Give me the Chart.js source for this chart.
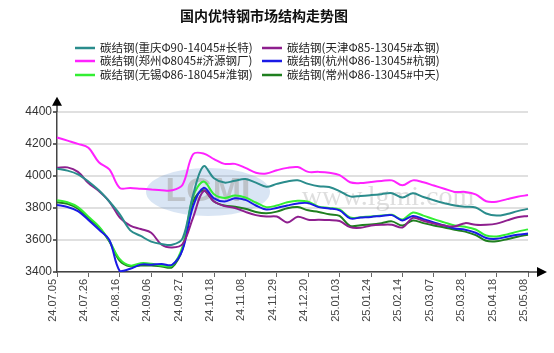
<!DOCTYPE html>
<html>
<head>
<meta charset="utf-8">
<script src="https://cdn.jsdelivr.net/npm/chart.js@4/dist/chart.umd.min.js"></script>
<style>
  html, body { margin: 0; padding: 0; background: #fff; }
  #wrap { width: 554px; height: 353px; }
</style>
</head>
<body>
<div id="wrap"><canvas id="myChart" width="554" height="353"></canvas></div>
<script>
// datos (aprox. semanal)
const fechas = [
  "24.07.05", "24.07.12", "24.07.19", "24.07.26", "24.08.02", "24.08.09",
  "24.08.16", "24.08.23", "24.08.30", "24.09.06", "24.09.13", "24.09.20",
  "24.09.27", "24.10.04", "24.10.11", "24.10.18", "24.10.25", "24.11.01",
  "24.11.08", "24.11.15", "24.11.22", "24.11.29", "24.12.06", "24.12.13",
  "24.12.20", "24.12.25", "24.12.30", "25.01.03", "25.01.10", "25.01.17",
  "25.01.24", "25.01.31", "25.02.07", "25.02.14", "25.02.21", "25.02.28",
  "25.03.07", "25.03.14", "25.03.21", "25.03.28", "25.04.04", "25.04.11",
  "25.04.18", "25.04.25", "25.04.30", "25.05.08"
];

const chongqing = [4045, 4033, 4010, 3965, 3910, 3840, 3760, 3660, 3625, 3590, 3575, 3570,
  3610, 3880, 4060, 3985, 3958, 3970, 3980, 3958, 3932, 3950, 3965, 3972,
  3950, 3935, 3930, 3905, 3872, 3875, 3880, 3886, 3892, 3865, 3892, 3868,
  3848, 3830, 3815, 3808, 3803, 3765, 3752, 3762, 3780, 3794];
const tianjin = [4050, 4053, 4025, 3955, 3905, 3840, 3740, 3690, 3668, 3645, 3570, 3553,
  3575, 3740, 3905, 3840, 3812, 3800, 3775, 3755, 3746, 3746, 3709, 3745,
  3726, 3726, 3724, 3718, 3680, 3676, 3690, 3695, 3695, 3678, 3738, 3720,
  3702, 3690, 3685, 3705, 3695, 3695, 3702, 3722, 3742, 3750];
const zhengzhou = [4240, 4220, 4200, 4175, 4085, 4040, 3925, 3925, 3920, 3915, 3910, 3910,
  3945, 4135, 4140, 4105, 4075, 4075, 4050, 4020, 4015, 4035, 4050, 4055,
  4025, 4025, 4020, 4005, 3960, 3955, 3962, 3968, 3972, 3941, 3972, 3960,
  3940, 3920, 3900, 3900, 3885, 3842, 3839, 3855, 3870, 3880];
const hangzhou = [3818, 3806, 3780, 3725, 3665, 3600, 3406, 3420, 3446, 3446, 3450, 3445,
  3540, 3810, 3925, 3860, 3840, 3860, 3850, 3815, 3790, 3800, 3815, 3828,
  3830, 3805, 3797, 3785, 3735, 3740, 3744, 3750, 3755, 3722, 3750, 3730,
  3710, 3690, 3672, 3664, 3645, 3612, 3607, 3620, 3632, 3640];
const wuxi = [3848, 3835, 3805, 3745, 3685, 3595, 3480, 3440, 3455, 3452, 3440, 3440,
  3561, 3870, 3965, 3885, 3862, 3877, 3865, 3834, 3805, 3815, 3835, 3845,
  3839, 3808, 3800, 3790, 3740, 3742, 3746, 3752, 3757, 3728, 3771, 3752,
  3730, 3710, 3690, 3682, 3665, 3628, 3622, 3635, 3652, 3666];
const changzhou = [3835, 3825, 3795, 3735, 3680, 3590, 3470, 3435, 3440, 3440, 3435, 3430,
  3545, 3840, 3910, 3840, 3815, 3808, 3795, 3775, 3767, 3777, 3798, 3805,
  3785, 3775, 3760, 3750, 3688, 3692, 3697, 3705, 3716, 3690, 3722, 3705,
  3690, 3678, 3664, 3652, 3630, 3595, 3592, 3605, 3620, 3633];

const yTicks = [3400, 3600, 3800, 4000, 4200, 4400];

const series = [
  { label: "碳结钢(重庆Φ90-14045#长特)", data: chongqing, color: "#2a8c8c" },
  { label: "碳结钢(天津Φ85-13045#本钢)", data: tianjin, color: "#8e1f8e" },
  { label: "碳结钢(郑州Φ8045#济源钢厂)", data: zhengzhou, color: "#ff22ff" },
  { label: "碳结钢(杭州Φ86-13045#杭钢)", data: hangzhou, color: "#1a1ae6" },
  { label: "碳结钢(无锡Φ86-18045#淮钢)", data: wuxi, color: "#33ee33" },
  { label: "碳结钢(常州Φ86-13045#中天)", data: changzhou, color: "#1f7f1f" }
];

// marca de agua + leyenda + flechas de los ejes
const extras = {
  id: "extras",
  beforeDatasetsDraw(chart) {
    const ctx = chart.ctx;
    ctx.save();
    ctx.fillStyle = "rgba(120,160,215,0.28)";
    ctx.beginPath();
    ctx.ellipse(208, 192, 62, 24, 0, 0, Math.PI * 2);
    ctx.fill();
    ctx.font = "bold 34px 'Liberation Sans'";
    ctx.fillStyle = "rgba(170,170,170,0.6)";
    ctx.textAlign = "center";
    ctx.textBaseline = "middle";
    ctx.fillText("LGMI", 208, 192);
    ctx.font = "28px 'Liberation Serif'";
    ctx.fillStyle = "rgba(160,160,160,0.35)";
    ctx.fillText("www.lgmi.com", 388, 198);
    ctx.restore();
  },
  afterDraw(chart) {
    const ctx = chart.ctx;
    const a = chart.chartArea;
    ctx.save();
    // flechas
    ctx.strokeStyle = "#444";
    ctx.fillStyle = "#000";
    ctx.lineWidth = 1.5;
    ctx.beginPath();
    ctx.moveTo(a.left, a.top);
    ctx.lineTo(a.left, a.top - 8);
    ctx.moveTo(a.right, a.bottom);
    ctx.lineTo(a.right + 12, a.bottom);
    ctx.stroke();
    ctx.beginPath();
    ctx.moveTo(a.left, a.top - 15);
    ctx.lineTo(a.left - 5, a.top - 6);
    ctx.lineTo(a.left + 5, a.top - 6);
    ctx.closePath();
    ctx.fill();
    ctx.beginPath();
    ctx.moveTo(a.right + 19, a.bottom);
    ctx.lineTo(a.right + 9, a.bottom - 5);
    ctx.lineTo(a.right + 9, a.bottom + 5);
    ctx.closePath();
    ctx.fill();

    // leyenda en dos columnas
    const cols = [75, 262];
    const rows = [48, 61, 75];
    ctx.font = "11.5px 'Noto Sans CJK SC'";
    ctx.textBaseline = "middle";
    ctx.textAlign = "left";
    chart.data.datasets.forEach((ds, i) => {
      const x = cols[i % 2];
      const y = rows[Math.floor(i / 2)];
      ctx.strokeStyle = ds.borderColor;
      ctx.lineWidth = 2.5;
      ctx.beginPath();
      ctx.moveTo(x, y);
      ctx.lineTo(x + 20, y);
      ctx.stroke();
      ctx.fillStyle = "#222";
      ctx.fillText(ds.label, x + 25, y);
    });
    ctx.restore();
  }
};

const data = {
  labels: fechas,
  datasets: series.map((s) => ({
    label: s.label,
    data: s.data,
    borderColor: s.color,
    backgroundColor: s.color,
    borderWidth: 2,
    pointRadius: 0,
    tension: 0.35,
    fill: false
  }))
};

const config = {
  type: "line",
  data,
  options: {
    responsive: false,
    animation: false,
    layout: { padding: { left: 0, right: 26, top: 0, bottom: 0 } },
    plugins: {
      legend: { display: false },
      tooltip: { enabled: false },
      title: {
        display: true,
        text: "国内优特钢市场结构走势图",
        color: "#111",
        font: { size: 14, weight: "bold", family: "'Noto Sans CJK SC'" },
        padding: { top: 7, bottom: 88 }
      }
    },
    scales: {
      x: {
        offset: false,
        grid: { drawOnChartArea: false, tickLength: 5, tickColor: "#666" },
        border: { color: "#444", width: 1.5 },
        ticks: {
          autoSkip: false,
          maxRotation: 90,
          minRotation: 90,
          padding: 2,
          labelOffset: -4,
          color: "#444",
          font: { size: 11, family: "'Liberation Sans'" },
          callback: function (val, idx) {
            return idx % 3 === 0 ? fechas[idx] : null;
          }
        },
        afterFit: (scale) => { scale.height = 81; }
      },
      y: {
        min: 3400,
        max: 4400,
        afterBuildTicks: (scale) => { scale.ticks = yTicks.map((v) => ({ value: v })); },
        grid: { color: "#e0e0e0", lineWidth: 2, tickLength: 4, tickColor: "#666" },
        border: { color: "#444", width: 1.5 },
        ticks: {
          padding: 1,
          color: "#333",
          font: { size: 12, family: "'Liberation Sans'" },
          callback: (v) => String(v)
        },
        afterFit: (scale) => { scale.width = 57; }
      }
    }
  },
  plugins: [extras]
};

new Chart(document.getElementById("myChart"), config);
</script>
</body>
</html>
